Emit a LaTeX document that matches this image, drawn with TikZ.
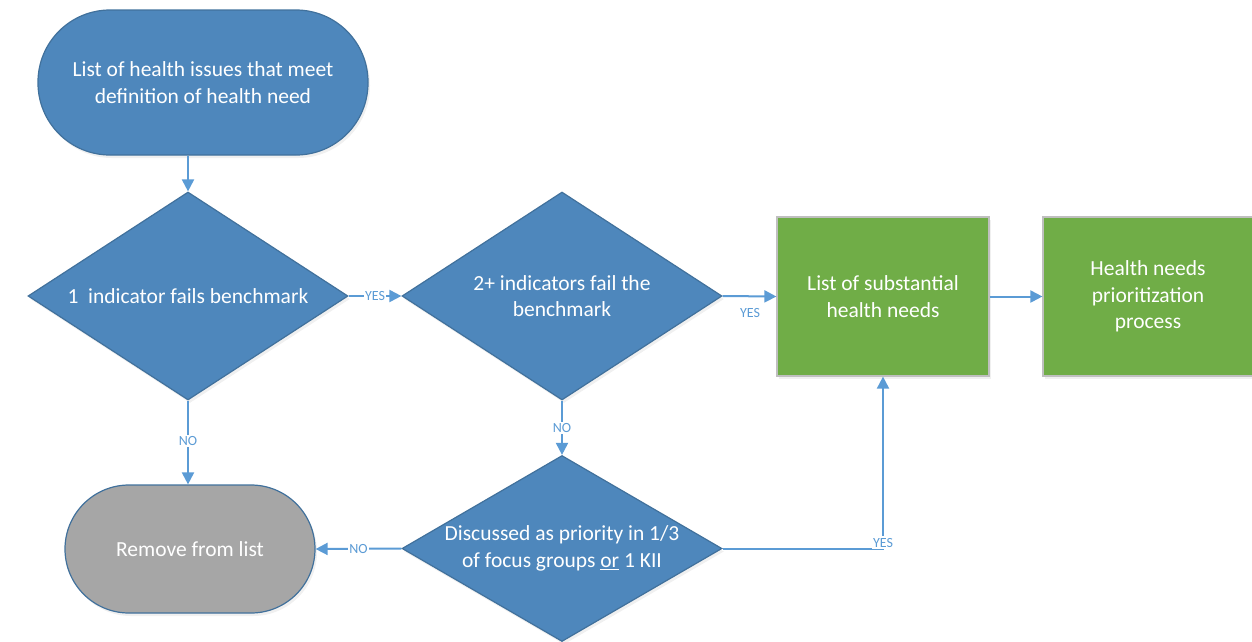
\documentclass[tikz,border=0pt]{standalone}
\usepackage{fontspec}
\setmainfont{Carlito}
\usetikzlibrary{shapes.geometric,arrows.meta,calc,shadows}
\definecolor{nodeblue}{HTML}{4E87BC}
\definecolor{edgeblue}{HTML}{41719C}
\definecolor{arrowblue}{HTML}{5B9BD5}
\definecolor{boxgreen}{HTML}{70AD47}
\definecolor{boxgray}{HTML}{A6A6A6}
\definecolor{greenedge}{HTML}{BFBFBF}
\begin{document}
\begin{tikzpicture}[x=1pt,y=-1pt,
  shade/.style={drop shadow={opacity=0.12,shadow xshift=2pt,shadow yshift=-3pt}},
  term/.style={draw=edgeblue,line width=1.2pt,rectangle,inner sep=0pt,shade},
  dia/.style={diamond,draw=edgeblue,line width=1.2pt,fill=nodeblue,inner sep=0pt,shade},
  gbox/.style={rectangle,draw=greenedge,line width=1.2pt,fill=boxgreen,inner sep=0pt,minimum width=212pt,minimum height=159pt,shade},
  txt/.style={text=white,align=center,font=\fontsize{21.5}{26.5}\selectfont},
  lbl/.style={text=arrowblue,font=\fontsize{14}{16}\selectfont,inner sep=1.5pt},
  arr/.style={draw=arrowblue,line width=2pt,-{Triangle[length=12pt,width=12pt]}}]
\useasboundingbox (0,0) rectangle (1252,641);

% nodes
\node[term,fill=nodeblue,rounded corners=72pt,minimum width=330pt,minimum height=145pt] (top) at (203,82.5) {};
\node[txt] (topt) at (top) {List of health issues that meet\\definition of health need};

\node[dia,minimum width=320pt,minimum height=208pt] (d1) at (188,296) {};
\node[txt] (d1t) at (d1) {1\ \ indicator fails benchmark};

\node[dia,minimum width=320pt,minimum height=208pt] (d2) at (562,296) {};
\node[txt] (d2t) at (562,296) {2+ indicators fail the\\benchmark};

\node[gbox] (b1) at (883,296.5) {};
\node[txt] (b1t) at (b1) {List of substantial\\health needs};

\node[gbox,minimum width=210pt] (b2) at (1148,296.5) {};
\node[txt] (b2t) at (b2) {Health needs\\prioritization\\process};

\node[dia,minimum width=320pt,minimum height=186pt] (d3) at (562,548.5) {};
\node[txt] (d3t) at (d3) {Discussed as priority in 1/3\\of focus groups \underline{or} 1 KII};

\node[term,fill=boxgray,rounded corners=64pt,minimum width=250pt,minimum height=128pt] (gr) at (190,549) {};
\node[txt] (grt) at (gr) {Remove from list};

% connectors
\draw[arr] (d1.north |- top.south) -- (d1.north);
\draw[arr] (d1.east) -- (d2.west);
\node[lbl,fill=white] (l1) at ($(d1.east)!0.5!(d2.west)$) {YES};
\draw[arr] (d2.east) -- (b1.west);
\node[lbl] (l2) at (750,313) {YES};
\draw[arr] (b1.east) -- (b2.west);
\draw[arr] (d1.south) -- (d1.south |- gr.north);
\node[lbl,fill=white] (l3) at (188,441) {NO};
\draw[arr] (d2.south) -- (d3.north);
\node[lbl,fill=white] (l4) at (562,428) {NO};
\draw[arr] (d3.west) -- (gr.east);
\node[lbl,fill=white] (l5) at ($(d3.west)!0.5!(gr.east)$) {NO};
\coordinate (c1) at (b1.south |- d3.east);
\draw[arr] (d3.east) -- (c1) -- (b1.south);
\node[lbl,fill=white] (l6) at ($(c1)+(0,-6)$) {YES};
\end{tikzpicture}
\end{document}
